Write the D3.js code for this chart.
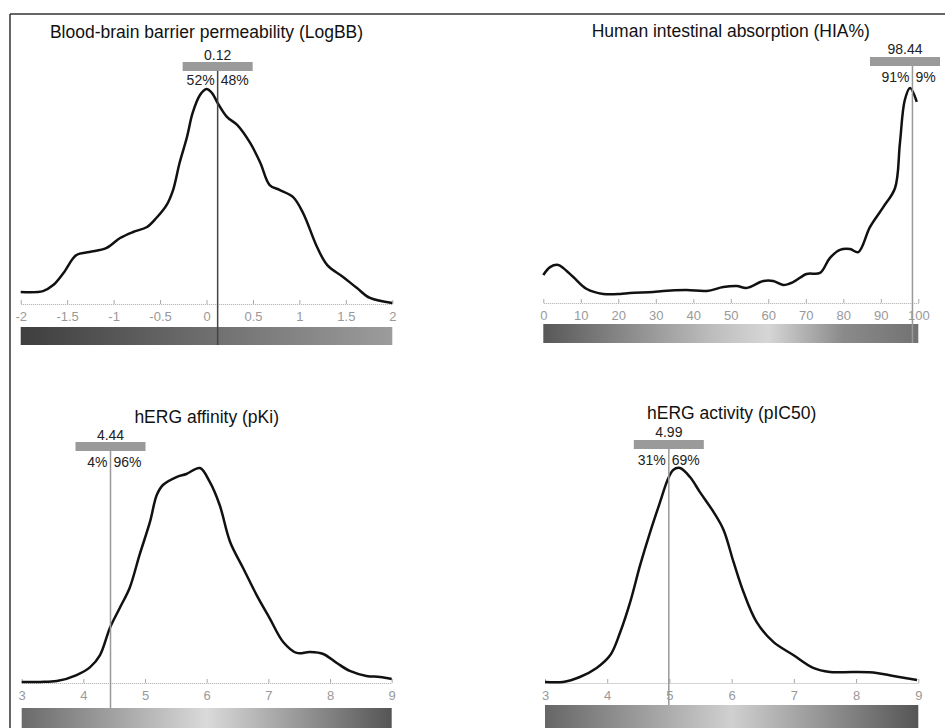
<!DOCTYPE html>
<html>
<head>
<meta charset="utf-8">
<script src="https://cdn.jsdelivr.net/npm/d3@7"></script>
<style>
  body { margin: 0; background: #fff; }
  svg { display: block; font-family: "Liberation Sans", Arial, sans-serif; }
</style>
</head>
<body>
<svg id="graph" width="945" height="728"></svg>
<script>
// titles of the four panels
var titles = ["Blood-brain barrier permeability (LogBB)", "Human intestinal absorption (HIA%)",
    "hERG affinity (pKi)", "hERG activity (pIC50)"];

// predicted value of the compound and split of the reference set
var markValues = [0.12, 98.44, 4.44, 4.99];
var pctLeft = [52, 91, 4, 31];
var pctRight = [48, 9, 96, 69];

// axis domains and ticks
var domains = [[-2, 2], [0, 100], [3, 9], [3, 9]];
var tickValues = [
    [-2, -1.5, -1, -0.5, 0, 0.5, 1, 1.5, 2],
    [0, 10, 20, 30, 40, 50, 60, 70, 80, 90, 100],
    [3, 4, 5, 6, 7, 8, 9],
    [3, 4, 5, 6, 7, 8, 9]
];

// distribution curves (x, relative density in % of peak)
var logbbX = [-2, -1.76, -1.65, -1.54, -1.40, -1.26, -1.08, -0.93, -0.79, -0.64, -0.54, -0.43, -0.36, -0.29, -0.21,
    -0.15, -0.07, 0.00, 0.06, 0.12, 0.22, 0.33, 0.47, 0.58, 0.68, 0.79, 0.93, 1.04, 1.19, 1.30, 1.47, 1.62, 1.76, 2.0];
var logbbY = [5.6, 6.0, 8.8, 14.4, 22.8, 24.2, 26.0, 30.7, 33.5, 35.8, 40.0, 46.0, 53.0, 65.6, 77.7,
    88.8, 97.2, 100, 98.1, 93.5, 87.0, 83.3, 74.9, 65.6, 55.3, 53.0, 49.8, 42.3, 26.5, 18.1, 12.6, 7.4, 2.8, 0.5];

var hiaX = [0, 1.8, 4.0, 5.3, 8.0, 11.6, 16.0, 20.5, 23.1, 29.3, 32.0, 38.2, 43.6, 48.0, 51.6, 54.2, 58.7,
    61.3, 64.0, 66.7, 70.2, 73.8, 76.4, 79.1, 81.8, 84.0, 87.1, 90.7, 93.8, 95.1, 96.4, 97.8, 99.6];
var hiaY = [13.0, 16.7, 17.7, 16.3, 12.1, 6.5, 4.2, 4.2, 4.7, 5.1, 5.6, 6.0, 5.6, 7.4, 7.9, 7.0, 10.2,
    10.2, 8.4, 9.8, 13.5, 14.0, 20.9, 24.7, 25.1, 23.7, 35.3, 44.7, 53.5, 74.4, 94.4, 100, 93.5];

var pkiX = [3.00, 3.30, 3.57, 3.89, 4.11, 4.27, 4.43, 4.59, 4.75, 4.91, 5.08, 5.19, 5.29, 5.51, 5.67, 5.89,
    6.05, 6.21, 6.38, 6.59, 6.81, 7.02, 7.24, 7.46, 7.67, 7.89, 8.11, 8.32, 8.59, 8.81, 9.00];
var pkiY = [0.5, 0.5, 0.9, 3.7, 7.4, 13.0, 25.6, 34.9, 44.2, 59.5, 74.9, 87.4, 92.1, 95.8, 97.2, 100,
    93.5, 82.8, 65.6, 53.5, 40.9, 30.2, 19.1, 14.0, 14.4, 13.5, 9.3, 5.6, 3.3, 2.8, 1.9];

var pic50X = [3.00, 3.29, 3.56, 3.83, 4.05, 4.21, 4.37, 4.53, 4.69, 4.85, 4.97, 5.06, 5.17, 5.33, 5.49,
    5.71, 5.87, 6.03, 6.19, 6.40, 6.67, 6.99, 7.31, 7.58, 7.96, 8.33, 8.60, 8.98];
var pic50Y = [0.5, 0.5, 2.8, 7.0, 13.0, 23.7, 37.7, 54.9, 70.2, 84.2, 94.4, 99.1, 100, 95.8, 88.8,
    79.5, 71.2, 56.3, 42.3, 28.4, 19.1, 13.0, 7.0, 5.1, 5.1, 4.7, 3.3, 1.4];

var curvesX = [logbbX, hiaX, pkiX, pic50X];
var curvesY = [logbbY, hiaY, pkiY, pic50Y];

// layout of each panel (pixels)
var layout = [
    {x0: 20.7, x1: 392.3, axisY: 304, barTop: 327, barBot: 345, titleY: 38, valueY: 60, boxY: 62, pctY: 85, lineEnd: 345, markColor: "#444"},
    {x0: 543.3, x1: 918.3, axisY: 303, barTop: 324, barBot: 343, titleY: 37, valueY: 54, boxY: 57, pctY: 82, lineEnd: 343, markColor: "#999"},
    {x0: 21.7, x1: 391.7, axisY: 683, barTop: 708, barBot: 732, titleY: 423, valueY: 440, boxY: 442, pctY: 467, lineEnd: 708, markColor: "#999"},
    {x0: 545, x1: 918.3, axisY: 683, barTop: 705, barBot: 732, titleY: 419, valueY: 437, boxY: 440, pctY: 465, lineEnd: 705, markColor: "#999"}
];
var gradStops = [
    [["0", "#3e3e3e"], ["0.5", "#6e6e6e"], ["1", "#9c9c9c"]],
    [["0", "#585858"], ["0.45", "#bdbdbd"], ["0.6", "#d6d6d6"], ["0.8", "#8a8a8a"], ["1", "#727272"]],
    [["0", "#6a6a6a"], ["0.5", "#dadada"], ["1", "#555"]],
    [["0", "#666"], ["0.5", "#d0d0d0"], ["1", "#555"]]
];
var plotHeight = 215;

var svg = d3.select("#graph");
var defs = svg.append("defs");

// outer frame
svg.append("line").attr("x1", 10).attr("y1", 14).attr("x2", 945).attr("y2", 14)
    .attr("stroke", "#333").attr("stroke-width", 1.5);
svg.append("line").attr("x1", 10).attr("y1", 14).attr("x2", 10).attr("y2", 728)
    .attr("stroke", "#333").attr("stroke-width", 1.5);

function drawPanel(i) {
    var L = layout[i];
    var g = svg.append("g");

    var x = d3.scaleLinear().domain(domains[i]).range([L.x0, L.x1]);
    var y = d3.scaleLinear().domain([0, 100]).range([L.axisY, L.axisY - plotHeight]);

    // title
    g.append("text")
        .attr("x", (L.x0 + L.x1) / 2)
        .attr("y", L.titleY)
        .attr("text-anchor", "middle")
        .attr("font-size", "17.5px")
        .attr("fill", "#111")
        .text(titles[i]);

    // colour bar under the axis
    var grad = defs.append("linearGradient").attr("id", "grad" + i);
    gradStops[i].forEach(function (s) {
        grad.append("stop").attr("offset", s[0]).attr("stop-color", s[1]);
    });
    g.append("rect")
        .attr("x", L.x0)
        .attr("y", L.barTop)
        .attr("width", L.x1 - L.x0)
        .attr("height", L.barBot - L.barTop)
        .attr("fill", "url(#grad" + i + ")");

    // axis
    var axis = d3.axisBottom(x).tickValues(tickValues[i]).tickSize(0).tickPadding(8)
        .tickFormat(function (d) { return String(d); });
    var ax = g.append("g").attr("transform", "translate(0," + L.axisY + ")").call(axis);
    ax.select(".domain").attr("stroke", "#aaa").attr("stroke-dasharray", "1,1");
    ax.selectAll(".tick text").attr("fill", "#999").attr("font-size", "13px")
        .attr("font-family", "Liberation Sans, Arial, sans-serif");
    ax.selectAll(".tick").append("line")
        .attr("y1", 0).attr("y2", -4).attr("stroke", "#aaa");

    // distribution curve
    var pts = curvesX[i].map(function (d, k) { return [d, curvesY[i][k]]; });
    var line = d3.line()
        .x(function (d) { return x(d[0]); })
        .y(function (d) { return y(d[1]); })
        .curve(d3.curveCatmullRom.alpha(0.5));
    g.append("path")
        .datum(pts)
        .attr("d", line)
        .attr("fill", "none")
        .attr("stroke", "#111")
        .attr("stroke-width", 2.5);

    // marker for the compound
    var mx = x(markValues[i]);
    var boxW = 70;
    var bx = Math.min(mx - boxW / 2, 940 - boxW);
    g.append("line")
        .attr("x1", mx).attr("x2", mx)
        .attr("y1", L.boxY).attr("y2", L.lineEnd)
        .attr("stroke", L.markColor)
        .attr("stroke-width", 1.5);
    g.append("rect")
        .attr("x", bx).attr("y", L.boxY)
        .attr("width", boxW).attr("height", 9)
        .attr("fill", "#9a9a9a");
    g.append("text")
        .attr("x", bx + boxW / 2).attr("y", L.valueY)
        .attr("text-anchor", "middle")
        .attr("font-size", "14px")
        .attr("fill", "#222")
        .text(markValues[i].toFixed(2));
    g.append("text")
        .attr("x", mx - 3).attr("y", L.pctY)
        .attr("text-anchor", "end")
        .attr("font-size", "14px")
        .attr("fill", "#222")
        .text(pctLeft[i] + "%");
    g.append("text")
        .attr("x", mx + 3).attr("y", L.pctY)
        .attr("font-size", "14px")
        .attr("fill", "#222")
        .text(pctRight[i] + "%");
}

for (var i = 0; i < 4; i++) {
    drawPanel(i);
}
</script>
</body>
</html>
